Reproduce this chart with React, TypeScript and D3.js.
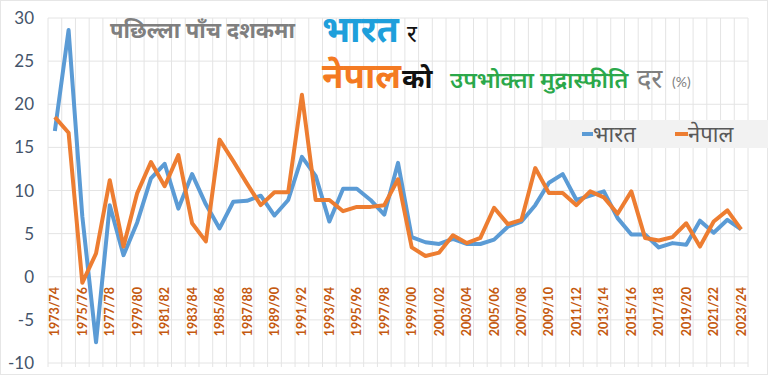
import React from "react";
import * as d3 from "d3";

const years: string[] = [];
for (let y = 1973; y <= 2023; y++) years.push(`${y}/${String((y + 1) % 100).padStart(2, "0")}`);

const india = [16.9, 28.6, 7.0, -7.6, 8.3, 2.5, 6.3, 11.4, 13.1, 7.9, 11.9, 8.4, 5.6, 8.7, 8.8, 9.4, 7.1, 8.9, 13.9, 11.7, 6.4, 10.2, 10.2, 8.9, 7.2, 13.2, 4.6, 4.0, 3.8, 4.4, 3.8, 3.8, 4.3, 5.8, 6.4, 8.3, 10.9, 11.9, 8.9, 9.4, 9.9, 6.8, 4.9, 4.9, 3.4, 3.9, 3.7, 6.5, 5.1, 6.6, 5.5];
const nepal = [18.5, 16.7, -0.7, 2.7, 11.2, 3.5, 9.7, 13.3, 10.5, 14.1, 6.2, 4.1, 15.9, 13.4, 10.8, 8.3, 9.8, 9.8, 21.1, 8.9, 8.9, 7.6, 8.1, 8.1, 8.3, 11.3, 3.4, 2.4, 2.8, 4.8, 3.9, 4.5, 8.0, 6.1, 6.6, 12.6, 9.7, 9.7, 8.3, 9.9, 9.2, 7.3, 9.9, 4.5, 4.2, 4.6, 6.2, 3.5, 6.4, 7.7, 5.5];
const yTicks = [-10, -5, 0, 5, 10, 15, 20, 25, 30];

const W = 768, H = 375;
const left = 48, right = 748, top = 18, bottom = 363;
const dev = "'Noto Sans Devanagari', 'Noto Sans', 'Lohit Devanagari', sans-serif";
const lat = "Lato, 'Open Sans', sans-serif";

export default function App() {
  const x = d3.scaleBand<string>().domain(years).range([left, right]);
  const y = d3.scaleLinear().domain([-10, 30]).range([bottom, top]);
  const cx = (d: string) => (x(d) as number) + x.bandwidth() / 2;
  const line = d3.line<number>().x((_, i) => cx(years[i])).y((v) => y(v));
  const bounds = years.map((d) => x(d) as number).concat([right]);
  return (
    <svg width={W} height={H} style={{ position: "absolute", left: 0, top: 0, background: "#fff" }}>
      <rect x={0.5} y={0.5} width={W - 1} height={H - 1} fill="#fff" stroke="#e6e6e6" />
      {bounds.map((b, i) => (
        <line key={"v" + i} x1={b} x2={b} y1={top} y2={bottom + 4} stroke="#e4e4e4" strokeWidth={1} />
      ))}
      {yTicks.map((t) => (
        <line key={"h" + t} x1={left} x2={right} y1={y(t)} y2={y(t)} stroke="#e4e4e4" strokeWidth={1} />
      ))}
      {yTicks.map((t) => (
        <text key={"t" + t} x={34} y={y(t) + 6} textAnchor="end" fontFamily={lat} fontSize={17} fill="#44546A">{t}</text>
      ))}
      {years.map((d, i) => i % 2 === 0 ? (
        <text key={"x" + d} transform={`translate(${cx(d) + 4.5},${287}) rotate(-90)`} textAnchor="end" fontFamily={lat} fontWeight="bold" fontSize={12.5} fill="#C55A11">{d}</text>
      ) : null)}
      <path d={line(india) || ""} fill="none" stroke="#5B9BD5" strokeWidth={4} strokeLinejoin="round" />
      <path d={line(nepal) || ""} fill="none" stroke="#ED7D31" strokeWidth={4} strokeLinejoin="round" />

      <rect x={543} y={120} width={225} height={28} fill="#F2F2F2" />
      <line x1={582} x2={593} y1={134} y2={134} stroke="#5B9BD5" strokeWidth={4} />
      <text x={593} y={142} fontFamily={dev} fontSize={22} fill="#595959">भारत</text>
      <line x1={675} x2={688} y1={134} y2={134} stroke="#ED7D31" strokeWidth={4} />
      <text x={688} y={142} fontFamily={dev} fontSize={22} fill="#595959">नेपाल</text>

      <text x={110} y={38} fontFamily={dev} fontWeight="bold" fontSize={22} fill="#7F7F7F">पछिल्ला पाँच दशकमा</text>
      <text x={322} y={42} fontFamily={dev} fontWeight="bold" fontSize={36} fill="#1E9FDB">भारत</text>
      <text x={407} y={42} fontFamily={dev} fontSize={24} fill="#111">र</text>
      <text x={322} y={88} fontFamily={dev} fontWeight="bold" fontSize={35} fill="#F47A22">नेपाल</text>
      <text x={402} y={88} fontFamily={dev} fontWeight="bold" fontSize={27} fill="#111">को</text>
      <text x={450} y={88} fontFamily={dev} fontWeight="600" fontSize={23} fill="#2BA84A">उपभोक्ता मुद्रास्फीति</text>
      <text x={637} y={88} fontFamily={dev} fontSize={27} fill="#7F7F7F">दर</text>
      <text x={672} y={87} fontFamily={lat} fontSize={14} fill="#7F7F7F">(%)</text>
    </svg>
  );
}
